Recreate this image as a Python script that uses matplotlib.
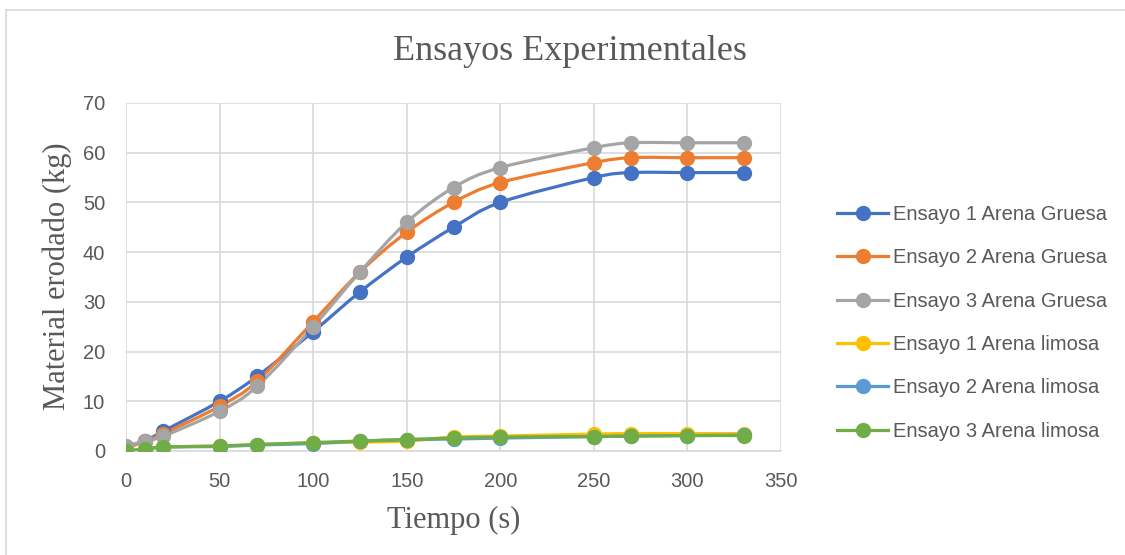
import numpy as np
import matplotlib
matplotlib.use("Agg")
import matplotlib.pyplot as plt
from matplotlib.path import Path
from matplotlib.patches import PathPatch
from matplotlib.lines import Line2D

tiempo = [0, 10, 20, 50, 70, 100, 125, 150, 175, 200, 250, 270, 300, 330]
gruesa1 = [0.8, 2, 4, 10, 15, 24, 32, 39, 45, 50, 55, 56, 56, 56]
gruesa2 = [0.5, 2, 3.5, 9, 14, 26, 36, 44, 50, 54, 58, 59, 59, 59]
gruesa3 = [1, 2, 3, 8, 13, 25, 36, 46, 53, 57, 61, 62, 62, 62]
limosa1 = [0, 0.3, 0.8, 1.0, 1.3, 1.6, 1.8, 2.0, 2.8, 3.0, 3.4, 3.5, 3.5, 3.5]
limosa2 = [0, 0.3, 0.8, 0.9, 1.2, 1.5, 2.0, 2.3, 2.4, 2.6, 2.9, 3.0, 3.1, 3.2]
limosa3 = [0, 0.4, 0.8, 1.0, 1.3, 1.7, 2.0, 2.3, 2.6, 2.8, 2.9, 3.0, 3.1, 3.1]

labels = ["Ensayo 1 Arena Gruesa", "Ensayo 2 Arena Gruesa", "Ensayo 3 Arena Gruesa",
          "Ensayo 1 Arena limosa", "Ensayo 2 Arena limosa", "Ensayo 3 Arena limosa"]
colors = ["#4472C4", "#ED7D31", "#A5A5A5", "#FFC000", "#5B9BD5", "#70AD47"]
series = [gruesa1, gruesa2, gruesa3, limosa1, limosa2, limosa3]

xticks = [0, 50, 100, 150, 200, 250, 300, 350]
yticks = [0, 10, 20, 30, 40, 50, 60, 70]

W, H = 1125, 555
fig = plt.figure(figsize=(W / 100, H / 100), dpi=100)
ax = fig.add_axes([126 / W, 1 - 451 / H, (781 - 126) / W, (451 - 103) / H])


def smooth_path(xs, ys):
    P = np.column_stack([xs, ys]).astype(float)
    n = len(P)
    verts = [P[0]]
    codes = [Path.MOVETO]
    for i in range(n - 1):
        p0 = P[i - 1] if i > 0 else P[i]
        p1 = P[i]
        p2 = P[i + 1]
        p3 = P[i + 2] if i + 2 < n else P[i + 1]
        c1 = p1 + (p2 - p0) / 6.0
        c2 = p2 - (p3 - p1) / 6.0
        verts += [c1, c2, p2]
        codes += [Path.CURVE4] * 3
    return Path(verts, codes)


lw = 2.3
ms = 10
for ys, c, lab in zip(series, colors, labels):
    patch = PathPatch(smooth_path(tiempo, ys), facecolor="none", edgecolor=c,
                      lw=lw, zorder=3, capstyle="round", joinstyle="round")
    ax.add_patch(patch)
    ax.plot(tiempo, ys, linestyle="none", marker="o", ms=ms, color=c, zorder=4)

ax.set_xlim(0, 350)
ax.set_ylim(0, 70)
ax.set_xticks(xticks)
ax.set_yticks(yticks)
ax.grid(True, color="#D9D9D9", lw=1.2, zorder=0)
for s in ["top", "right", "left"]:
    ax.spines[s].set_visible(False)
ax.spines["bottom"].set_color("#D9D9D9")
ax.spines["bottom"].set_linewidth(1.2)
ax.tick_params(length=0, labelsize=14.5, labelcolor="#595959")
ax.tick_params(axis="x", pad=15)
ax.tick_params(axis="y", pad=15)
for t in ax.get_xticklabels() + ax.get_yticklabels():
    t.set_family("Liberation Sans")

fig.text(570 / W, 1 - 52 / H, "Ensayos Experimentales", ha="center", va="center",
         family="Liberation Serif", fontsize=26, color="#595959")
fig.text(57 / W, 1 - 276 / H, "Material erodado (kg)", ha="center", va="center",
         rotation=90, family="Liberation Serif", fontsize=22, color="#595959")
fig.text(454 / W, 1 - 520 / H, "Tiempo (s)", ha="center", va="center",
         family="Liberation Serif", fontsize=22, color="#595959")

handles = [Line2D([], [], color=c, lw=lw, marker="o", ms=ms) for c in colors]
fig.legend(handles, labels, loc="upper left", bbox_to_anchor=(837 / W, 1 - 205 / H),
           frameon=False, borderpad=0, borderaxespad=0, handlelength=2.54,
           handletextpad=0.25, labelspacing=1.21,
           prop={"family": "Liberation Sans", "size": 14.5}, labelcolor="#595959")

# outer chart border (left and top edges)
fig.add_artist(Line2D([6 / W, 6 / W], [0, 1 - 10 / H], transform=fig.transFigure,
                      color="#D9D9D9", lw=1.2))
fig.add_artist(Line2D([6 / W, 1], [1 - 10 / H, 1 - 10 / H], transform=fig.transFigure,
                      color="#D9D9D9", lw=1.2))

fig.savefig("out.png", dpi=100, facecolor="white")
